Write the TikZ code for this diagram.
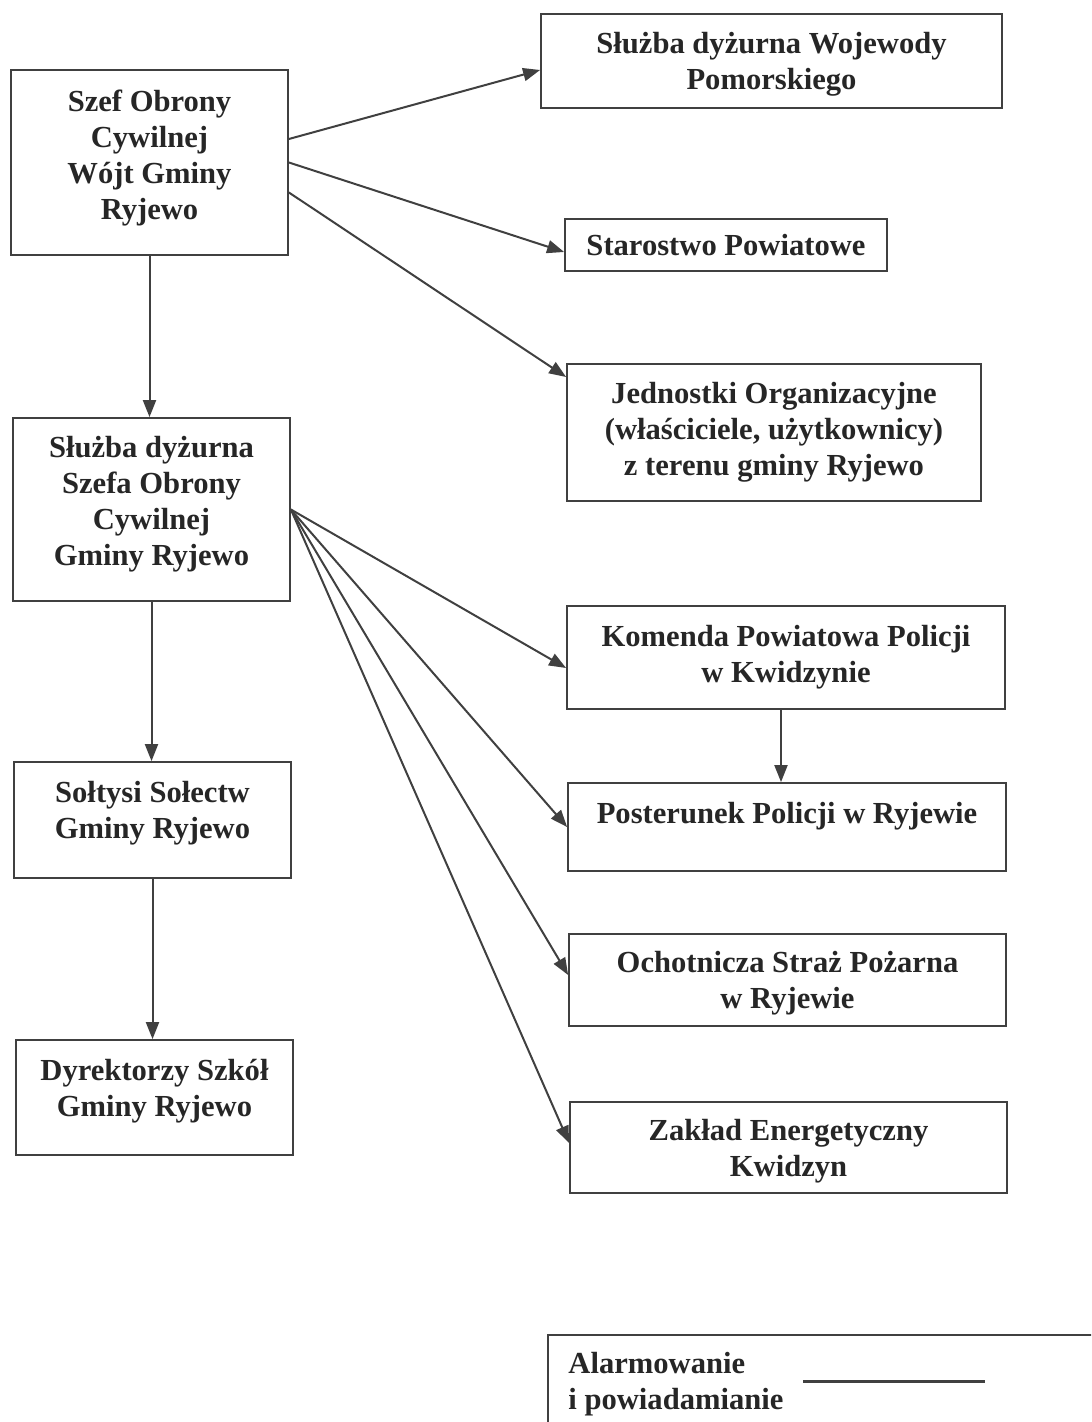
\documentclass[tikz,border=0pt]{standalone}
\usepackage{fontspec}
\setmainfont{Liberation Serif}
\usetikzlibrary{arrows.meta}

\begin{document}
\begin{tikzpicture}[x=0.5pt,y=0.5pt,yscale=-1,xscale=1,
  box/.style={draw=black!75, line width=0.9pt, align=center, inner sep=0pt, text=black!85, font=\bfseries\fontsize{15.3}{18}\selectfont},
  alarm/.style={draw=black!75, line width=1pt, -{Triangle[length=8.5pt,width=6.5pt]}}]
\clip (0,0) rectangle (1091,1422);
\useasboundingbox (0,0) rectangle (1091,1422);
\node (szef) at (149.5,162.5) [box, minimum width=138.5pt, minimum height=92.5pt, text depth=7.8pt] {Szef Obrony\\Cywilnej\\Wójt Gminy\\Ryjewo};
\node (wojewoda) at (771.5,61) [box, minimum width=230.5pt, minimum height=47pt, text depth=-0.7pt] {Służba dyżurna Wojewody\\Pomorskiego};
\node (starostwo) at (726,245) [box, minimum width=161pt, minimum height=26pt, text depth=-2pt] {Starostwo Powiatowe};
\node (jednostki) at (774,432.5) [box, minimum width=207pt, minimum height=68.5pt] {Jednostki Organizacyjne\\(właściciele, użytkownicy)\\z terenu gminy Ryjewo};
\node (dyzur) at (151.5,509.5) [box, minimum width=138.5pt, minimum height=91.5pt, text depth=8.8pt] {Służba dyżurna\\Szefa Obrony\\Cywilnej\\Gminy Ryjewo};
\node (komenda) at (786,657.5) [box, minimum width=219pt, minimum height=51.5pt] {Komenda Powiatowa Policji\\w Kwidzynie};
\node (posterunek) at (787,827) [box, minimum width=219pt, minimum height=44pt, text depth=14.3pt] {Posterunek Policji w Ryjewie};
\node (osp) at (787.5,980) [box, minimum width=218.5pt, minimum height=46pt, text depth=-1.7pt] {Ochotnicza Straż Pożarna\\w Ryjewie};
\node (zaklad) at (788.5,1147.5) [box, minimum width=218.5pt, minimum height=45.5pt, text depth=-1.7pt] {Zakład Energetyczny\\Kwidzyn};
\node (soltysi) at (152.5,820) [box, minimum width=138.5pt, minimum height=58pt, text depth=10.3pt] {Sołtysi Sołectw\\Gminy Ryjewo};
\node (dyrektorzy) at (154.5,1097.5) [box, minimum width=138.5pt, minimum height=57.5pt, text depth=9.8pt] {Dyrektorzy Szkół\\Gminy Ryjewo};
% legenda
\draw [draw=black!75, line width=0.9pt] (548,1335) rectangle (1130,1460);
\node (opis) at (568,1384) [anchor=west, align=left, inner sep=0pt, text=black!85, font=\bfseries\fontsize{15.3}{18}\selectfont] {Alarmowanie\\i powiadamianie};
\coordinate (l1) at (803,1381);
\coordinate (l2) at (985,1381);
\draw [draw=black!75, line width=1.5pt] (l1) -- (l2);
% strzalki
\draw [alarm] ([yshift=-11.75pt]szef.east) -- ([yshift=4.5pt]wojewoda.west);
\draw [alarm] (szef.east) -- ([yshift=3.5pt]starostwo.west);
\draw [alarm] ([yshift=15pt]szef.east) -- ([yshift=-27.75pt]jednostki.west);
\draw [alarm] (szef.south) -- (szef.south |- dyzur.north);
\draw [alarm] (dyzur.east) -- ([yshift=5.25pt]komenda.west);
\draw [alarm] (dyzur.east) -- (posterunek.west);
\draw [alarm] (dyzur.east) -- ([yshift=-2.5pt]osp.west);
\draw [alarm] (dyzur.east) -- ([yshift=-2.25pt]zaklad.west);
\draw [alarm] (dyzur.south) -- (dyzur.south |- soltysi.north);
\draw [alarm] (soltysi.south) -- (soltysi.south |- dyrektorzy.north);
\draw [alarm] ([xshift=-2.5pt]komenda.south) -- ([xshift=-2.5pt]komenda.south |- posterunek.north);
\end{tikzpicture}
\end{document}
